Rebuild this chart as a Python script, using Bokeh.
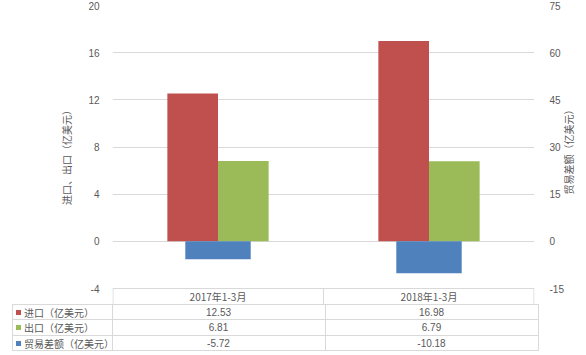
import math
from bokeh.plotting import figure
from bokeh.models import Range1d, LinearAxis, FixedTicker, ColumnDataSource, Div
from bokeh.layouts import column
from bokeh.transform import dodge
from bokeh.embed import file_html
from bokeh.resources import INLINE
from bokeh.core.properties import value

# ---------------- data ----------------
categories = ["2017年1-3月", "2018年1-3月"]
imports = [12.53, 16.98]
exports = [6.81, 6.79]
balance = [-5.72, -10.18]
series_names = ["进口（亿美元）", "出口（亿美元）", "贸易差额（亿美元）"]
left_ticks = [-4, 0, 4, 8, 12, 16, 20]
right_ticks = [-15, 0, 15, 30, 45, 60, 75]
left_title = "进口、出口（亿美元）"
right_title = "贸易差额（亿美元）"

# ---------------- style ----------------
colors = ["#C0504D", "#9BBB59", "#4F81BD"]
TXT = "#595959"
GRID = "#D9D9D9"
CJK = "Noto Sans CJK SC"
NUM = "Liberation Sans"

W, H = 586, 355
FL, FR, FT, FB = 112, 538, 5, 288     # chart plot area (screen px)
HDR_B = 304                           # bottom of the table header row
x0, x1 = -0.5, len(categories) - 0.5
y0, y1 = left_ticks[0], left_ticks[-1]
ppu_x = (FR - FL) / (x1 - x0)
ppu_y = (FB - FT) / (y1 - y0)
r_ppu = (FB - FT) / (right_ticks[-1] - right_ticks[0])
ext = (HDR_B - FB) / ppu_y

p = figure(width=W, height=HDR_B, x_range=Range1d(x0, x1),
           y_range=Range1d(y0 - ext, y1),
           output_backend="svg", toolbar_location=None, x_axis_location=None,
           min_border_left=FL, min_border_right=W - FR, min_border_top=FT,
           min_border_bottom=0, margin=0)
p.outline_line_color = None
p.extra_y_ranges = {"r": Range1d(right_ticks[0] - (HDR_B - FB) / r_ppu, right_ticks[-1])}

p.xgrid.visible = False
p.ygrid.ticker = FixedTicker(ticks=left_ticks)
p.ygrid.grid_line_color = GRID
p.ygrid.grid_line_width = 1

ya = p.yaxis[0]
ya.ticker = FixedTicker(ticks=left_ticks)
ya.axis_label = left_title
ya.major_label_overrides = {t: str(t) for t in left_ticks}

# right axis title: rotated to read bottom-to-top, anchored at the axis start and
# lifted with ideographic spaces so that it sits beside the middle of the chart
ra = LinearAxis(y_range_name="r", ticker=FixedTicker(ticks=right_ticks),
                axis_label="\u3000" * 11 + right_title)
ra.major_label_overrides = {t: str(t) for t in right_ticks}
ra.axis_label_orientation = math.pi / 2
ra.axis_label_align = "start"
p.add_layout(ra, "right")

for ax, st, lst in [(ya, 7, 11), (ra, 9, 2)]:
    ax.axis_line_color = None
    ax.major_tick_line_color = None
    ax.minor_tick_line_color = None
    ax.major_label_standoff = st
    ax.major_label_text_font = NUM
    ax.major_label_text_font_size = "10px"
    ax.major_label_text_color = TXT
    ax.axis_label_text_font = CJK
    ax.axis_label_text_font_size = "10px"
    ax.axis_label_text_font_style = "normal"
    ax.axis_label_text_color = TXT
    ax.axis_label_standoff = lst

xs = list(range(len(categories)))
src = ColumnDataSource(dict(x=xs, imp=imports, exp=exports, bal=balance))
bw = 0.24
p.vbar(x=dodge("x", -bw / 2), top="imp", bottom=0, width=bw, source=src,
       fill_color=colors[0], line_color=None)
p.vbar(x=dodge("x", bw / 2), top="exp", bottom=0, width=bw, source=src,
       fill_color=colors[1], line_color=None)
p.vbar(x="x", top=0, bottom="bal", width=0.31, source=src, y_range_name="r",
       fill_color=colors[2], line_color=None)

# table header row (inside the chart figure, below -4)
half = 0.5 / ppu_x
vlx = [x0 + half] + [x0 + i + 1 for i in range(len(categories) - 1)] + [x1 - half]
p.segment(x0=vlx, y0=[y0] * len(vlx), x1=vlx, y1=[y0 - ext] * len(vlx),
          line_color=GRID, line_width=1)
p.text(x=xs, y=[y0 - ext / 2] * len(xs), text=categories, text_align="center",
       text_baseline="middle", text_font=value(CJK), text_font_size="10px",
       text_color=TXT)

# ---------------- table body (HTML) ----------------
TL = 12
row_h = [15, 16, 15]
tops = [0]
for h_ in row_h:
    tops.append(tops[-1] + h_)
col_edges = [TL, FL] + [round(FL + ppu_x * (i + 1)) for i in range(len(categories))]
parts = []
for t_ in tops:
    parts.append(f'<div style="position:absolute;left:{TL}px;top:{t_}px;width:{FR - TL + 1}px;'
                 f'height:1px;background:{GRID}"></div>')
for cx in col_edges:
    parts.append(f'<div style="position:absolute;left:{cx}px;top:0px;width:1px;'
                 f'height:{tops[-1] + 1}px;background:{GRID}"></div>')
series_vals = [imports, exports, balance]
txt_style = (f"position:absolute;font-family:'{CJK}';font-size:10px;color:{TXT};"
             "white-space:nowrap;")
for r, (name, vals) in enumerate(zip(series_names, series_vals)):
    top_, hh = tops[r] + 1, row_h[r]
    parts.append(f'<div style="position:absolute;left:16px;top:{top_ + (hh - 5) // 2}px;'
                 f'width:5px;height:5px;background:{colors[r]}"></div>')
    parts.append(f'<div style="{txt_style}left:24px;top:{top_}px;height:{hh}px;'
                 f'line-height:{hh}px">{name}</div>')
    for i, v in enumerate(vals):
        parts.append(f'<div style="{txt_style}left:{col_edges[i + 1]}px;top:{top_}px;'
                     f'width:{col_edges[i + 2] - col_edges[i + 1]}px;height:{hh}px;'
                     f'line-height:{hh}px;text-align:center;font-family:\'{NUM}\'">{v:.2f}</div>')
html = (f'<div style="position:relative;width:{W}px;height:{H - HDR_B}px;margin:0;padding:0">'
        + "".join(parts) + "</div>")
d = Div(text=html, width=W, height=H - HDR_B, margin=0)

layout = column(p, d, spacing=0)
open("out.html", "w").write(file_html(layout, INLINE))
